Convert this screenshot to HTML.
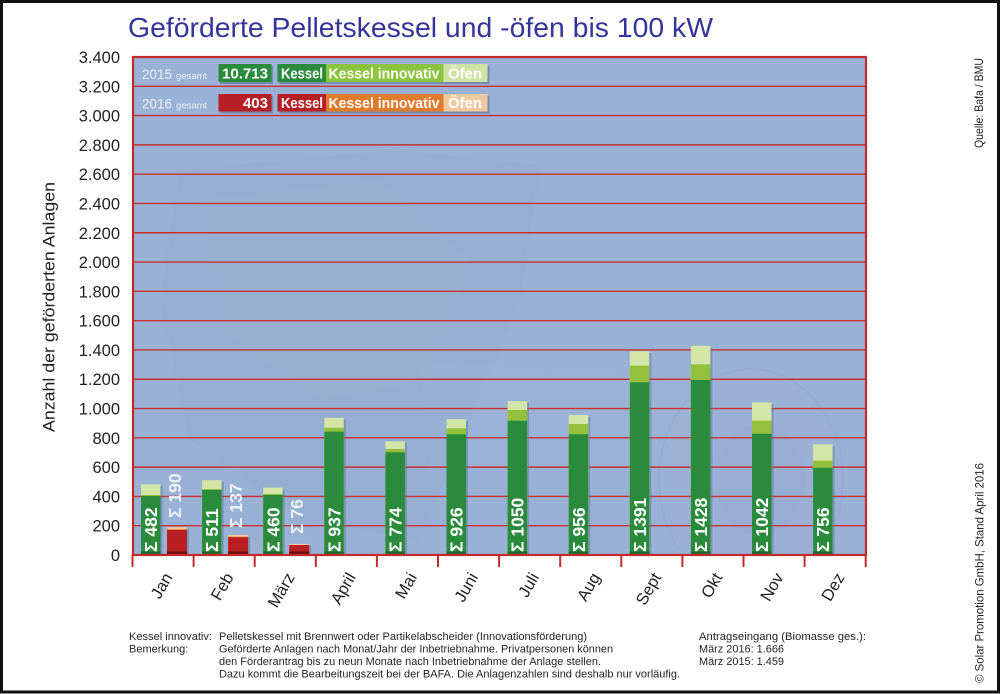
<!DOCTYPE html>
<html><head><meta charset="utf-8"><style>
html,body{margin:0;padding:0;background:#fff;}
svg{display:block;}
text{font-family:"Liberation Sans",sans-serif;}
</style></head><body>
<svg width="1000" height="694" viewBox="0 0 1000 694" xmlns="http://www.w3.org/2000/svg">
<defs>
<clipPath id="pc"><rect x="133" y="57" width="733" height="498"/></clipPath>
</defs>
<rect x="0" y="0" width="1000" height="694" fill="#fff"/>
<rect x="1.5" y="1.5" width="997" height="690.5" fill="none" stroke="#111" stroke-width="3"/>

<!-- Title -->
<text x="128" y="37" font-size="28" fill="#34359a" textLength="585" lengthAdjust="spacingAndGlyphs">Geförderte Pelletskessel und -öfen bis 100 kW</text>

<!-- Plot background -->
<rect x="133" y="57" width="733" height="498" fill="#98b1d5"/>
<g clip-path="url(#pc)">
  <polygon points="180,170 395,150 540,165 520,300 470,420 420,540 300,520 190,440 160,300" fill="#8ea5c9" opacity="0.2"/>
  <polygon points="200,200 380,180 470,260 430,380 320,400 220,330" fill="#a9bbd8" opacity="0.15"/>
  <polygon points="420,360 690,380 700,470 430,470" fill="#a4b7d7" opacity="0.2"/>
  <ellipse cx="751" cy="480" rx="92" ry="111" fill="#9fb4d6" opacity="0.3" stroke="#8aa0c4" stroke-width="1.5"/>
  <ellipse cx="760" cy="480" rx="45" ry="55" fill="#8ea5c9" opacity="0.2"/>
</g>

<!-- Gridlines -->
<g stroke="#c9302f" stroke-width="1.4">
<line x1="133" x2="866" y1="525.71" y2="525.71"/>
<line x1="133" x2="866" y1="496.41" y2="496.41"/>
<line x1="133" x2="866" y1="467.12" y2="467.12"/>
<line x1="133" x2="866" y1="437.82" y2="437.82"/>
<line x1="133" x2="866" y1="408.53" y2="408.53"/>
<line x1="133" x2="866" y1="379.24" y2="379.24"/>
<line x1="133" x2="866" y1="349.94" y2="349.94"/>
<line x1="133" x2="866" y1="320.65" y2="320.65"/>
<line x1="133" x2="866" y1="291.35" y2="291.35"/>
<line x1="133" x2="866" y1="262.06" y2="262.06"/>
<line x1="133" x2="866" y1="232.76" y2="232.76"/>
<line x1="133" x2="866" y1="203.47" y2="203.47"/>
<line x1="133" x2="866" y1="174.18" y2="174.18"/>
<line x1="133" x2="866" y1="144.88" y2="144.88"/>
<line x1="133" x2="866" y1="115.59" y2="115.59"/>
<line x1="133" x2="866" y1="86.29" y2="86.29"/>
</g>

<!-- Legend -->
<g>
<text x="142" y="79" fill="#eaf0f8"><tspan font-size="13.5">2015</tspan><tspan font-size="9.5" dx="4">gesamt</tspan></text>
<text x="142" y="108.5" fill="#eaf0f8"><tspan font-size="13.5">2016</tspan><tspan font-size="9.5" dx="4">gesamt</tspan></text>
<g fill="#5d739a" opacity="0.6">
<rect x="220" y="66" width="53" height="18"/>
<rect x="279.5" y="66" width="210" height="18"/>
<rect x="220" y="96" width="53" height="17.5"/>
<rect x="279.5" y="96" width="210" height="17.5"/>
</g>
<rect x="218.5" y="64" width="53" height="18" fill="#2b8b3d"/>
<rect x="277.5" y="64" width="48.5" height="18" fill="#2b8b3d"/>
<rect x="326" y="64" width="117.5" height="18" fill="#8cc43f"/>
<rect x="443.5" y="64" width="44" height="18" fill="#cfe3a5"/>
<rect x="218.5" y="94" width="53" height="17.5" fill="#b51f25"/>
<rect x="277.5" y="94" width="48.5" height="17.5" fill="#b51f25"/>
<rect x="326" y="94" width="117.5" height="17.5" fill="#e07b2c"/>
<rect x="443.5" y="94" width="44" height="17.5" fill="#f1c9a1"/>
<g font-weight="bold" font-size="15" fill="#fff">
<text x="222" y="78.5" textLength="46" lengthAdjust="spacingAndGlyphs">10.713</text>
<text x="281" y="78.5" textLength="42" lengthAdjust="spacingAndGlyphs">Kessel</text>
<text x="328.5" y="78.5" textLength="111" lengthAdjust="spacingAndGlyphs">Kessel innovativ</text>
<text x="448" y="78.5" textLength="34" lengthAdjust="spacingAndGlyphs">Öfen</text>
<text x="268" y="108" text-anchor="end">403</text>
<text x="281" y="108" textLength="42" lengthAdjust="spacingAndGlyphs">Kessel</text>
<text x="328.5" y="108" textLength="111" lengthAdjust="spacingAndGlyphs">Kessel innovativ</text>
<text x="448" y="108" textLength="34" lengthAdjust="spacingAndGlyphs">Öfen</text>
</g>
</g>

<!-- Bars 2015 -->
<g>
<g fill="#5d769c" opacity="0.5">
<rect x="143" y="486" width="19.5" height="69"/>
<rect x="204.1" y="482" width="19.5" height="73"/>
<rect x="265.2" y="489.7" width="19.5" height="65.3"/>
<rect x="326.3" y="419.7" width="19.5" height="135.3"/>
<rect x="387.4" y="443" width="19.5" height="112"/>
<rect x="448.5" y="421" width="19.5" height="134"/>
<rect x="509.6" y="403" width="19.5" height="152"/>
<rect x="570.7" y="417" width="19.5" height="138"/>
<rect x="631.8" y="353" width="19.5" height="202"/>
<rect x="692.9" y="347.7" width="19.5" height="207.3"/>
<rect x="754" y="404.3" width="19.5" height="150.7"/>
<rect x="815.1" y="446.3" width="19.5" height="108.7"/>
<rect x="169" y="529" width="20" height="26"/>
<rect x="230.1" y="536.5" width="20" height="18.5"/>
<rect x="291.2" y="546" width="20" height="9"/>
</g>
<g fill="#d3e5a7">
<rect x="141" y="484.4" width="19.5" height="70.1"/>
<rect x="202.1" y="480.2" width="19.5" height="74.3"/>
<rect x="263.2" y="487.6" width="19.5" height="66.9"/>
<rect x="324.3" y="417.8" width="19.5" height="136.7"/>
<rect x="385.4" y="441.4" width="19.5" height="113.1"/>
<rect x="446.5" y="419.2" width="19.5" height="135.3"/>
<rect x="507.6" y="401.2" width="19.5" height="153.3"/>
<rect x="568.7" y="415" width="19.5" height="139.5"/>
<rect x="629.8" y="351.2" width="19.5" height="203.3"/>
<rect x="690.9" y="345.8" width="19.5" height="208.7"/>
<rect x="752" y="402.4" width="19.5" height="152.1"/>
<rect x="813.1" y="444.3" width="19.5" height="110.2"/>
</g>
<g fill="#93c13e">
<rect x="141" y="495" width="19.5" height="59.5"/>
<rect x="202.1" y="489" width="19.5" height="65.5"/>
<rect x="263.2" y="494" width="19.5" height="60.5"/>
<rect x="324.3" y="427.7" width="19.5" height="126.8"/>
<rect x="385.4" y="449" width="19.5" height="105.5"/>
<rect x="446.5" y="428.3" width="19.5" height="126.2"/>
<rect x="507.6" y="410" width="19.5" height="144.5"/>
<rect x="568.7" y="424" width="19.5" height="130.5"/>
<rect x="629.8" y="365.7" width="19.5" height="188.8"/>
<rect x="690.9" y="364.3" width="19.5" height="190.2"/>
<rect x="752" y="420.7" width="19.5" height="133.8"/>
<rect x="813.1" y="460.7" width="19.5" height="93.8"/>
</g>
<g fill="#2b8b3d">
<rect x="141" y="496" width="19.5" height="58.5"/>
<rect x="202.1" y="490" width="19.5" height="64.5"/>
<rect x="263.2" y="495" width="19.5" height="59.5"/>
<rect x="324.3" y="431.7" width="19.5" height="122.8"/>
<rect x="385.4" y="452.3" width="19.5" height="102.2"/>
<rect x="446.5" y="434.3" width="19.5" height="120.2"/>
<rect x="507.6" y="420.7" width="19.5" height="133.8"/>
<rect x="568.7" y="434.3" width="19.5" height="120.2"/>
<rect x="629.8" y="382.3" width="19.5" height="172.2"/>
<rect x="690.9" y="380" width="19.5" height="174.5"/>
<rect x="752" y="433.7" width="19.5" height="120.8"/>
<rect x="813.1" y="467.7" width="19.5" height="86.8"/>
</g>
<g fill="#1e6a2d">
<rect x="141" y="551.5" width="19.5" height="3"/>
<rect x="202.1" y="551.5" width="19.5" height="3"/>
<rect x="263.2" y="551.5" width="19.5" height="3"/>
<rect x="324.3" y="551.5" width="19.5" height="3"/>
<rect x="385.4" y="551.5" width="19.5" height="3"/>
<rect x="446.5" y="551.5" width="19.5" height="3"/>
<rect x="507.6" y="551.5" width="19.5" height="3"/>
<rect x="568.7" y="551.5" width="19.5" height="3"/>
<rect x="629.8" y="551.5" width="19.5" height="3"/>
<rect x="690.9" y="551.5" width="19.5" height="3"/>
<rect x="752" y="551.5" width="19.5" height="3"/>
<rect x="813.1" y="551.5" width="19.5" height="3"/>
</g>
</g>

<!-- Bars 2016 -->
<g>
<rect x="167" y="527.2" width="20" height="27.3" fill="#f3c99f"/>
<rect x="167" y="529.2" width="20" height="25.3" fill="#e07b2c"/>
<rect x="167" y="530" width="20" height="24.5" fill="#b81e22"/>
<rect x="228.1" y="534.9" width="20" height="19.6" fill="#f3c99f"/>
<rect x="228.1" y="536.6" width="20" height="17.9" fill="#e07b2c"/>
<rect x="228.1" y="537.3" width="20" height="17.2" fill="#b81e22"/>
<rect x="289.2" y="543.9" width="20" height="10.6" fill="#f3c99f"/>
<rect x="289.2" y="545" width="20" height="9.5" fill="#b81e22"/>
<g fill="#6a0f12">
<rect x="167" y="551.5" width="20" height="3"/>
<rect x="228.1" y="551.5" width="20" height="3"/>
<rect x="289.2" y="551.5" width="20" height="3"/>
</g>
</g>

<!-- Bar labels -->
<g font-weight="bold" font-size="17.5" fill="#ffffff">
<text transform="translate(157.1,552) rotate(-90)">Σ 482</text>
<text transform="translate(218.2,552) rotate(-90)">Σ 511</text>
<text transform="translate(279.3,552) rotate(-90)">Σ 460</text>
<text transform="translate(340.4,552) rotate(-90)">Σ 937</text>
<text transform="translate(401.5,552) rotate(-90)">Σ 774</text>
<text transform="translate(462.6,552) rotate(-90)">Σ 926</text>
<text transform="translate(523.7,552) rotate(-90)">Σ 1050</text>
<text transform="translate(584.8,552) rotate(-90)">Σ 956</text>
<text transform="translate(645.9,552) rotate(-90)">Σ 1391</text>
<text transform="translate(707,552) rotate(-90)">Σ 1428</text>
<text transform="translate(768.1,552) rotate(-90)">Σ 1042</text>
<text transform="translate(829.2,552) rotate(-90)">Σ 756</text>
</g>
<g font-weight="bold" font-size="17.5" fill="#eef2f8">
<text transform="translate(181,518) rotate(-90)">Σ 190</text>
<text transform="translate(242.1,528) rotate(-90)">Σ 137</text>
<text transform="translate(303.2,534) rotate(-90)">Σ 76</text>
</g>

<!-- Plot border and ticks -->
<rect x="133" y="57" width="733" height="498" fill="none" stroke="#c42a2a" stroke-width="2.2"/>
<g stroke="#c42a2a" stroke-width="2">
<line x1="132.5" x2="132.5" y1="555" y2="567"/>
<line x1="193.6" x2="193.6" y1="555" y2="567"/>
<line x1="254.7" x2="254.7" y1="555" y2="567"/>
<line x1="315.8" x2="315.8" y1="555" y2="567"/>
<line x1="376.9" x2="376.9" y1="555" y2="567"/>
<line x1="438" x2="438" y1="555" y2="567"/>
<line x1="499.1" x2="499.1" y1="555" y2="567"/>
<line x1="560.2" x2="560.2" y1="555" y2="567"/>
<line x1="621.3" x2="621.3" y1="555" y2="567"/>
<line x1="682.4" x2="682.4" y1="555" y2="567"/>
<line x1="743.5" x2="743.5" y1="555" y2="567"/>
<line x1="804.6" x2="804.6" y1="555" y2="567"/>
<line x1="865.7" x2="865.7" y1="555" y2="567"/>
</g>

<!-- Y axis labels -->
<g font-size="16.5" fill="#231f20" text-anchor="end">
<text x="120" y="561">0</text>
<text x="120" y="531.7">200</text>
<text x="120" y="502.4">400</text>
<text x="120" y="473.1">600</text>
<text x="120" y="443.8">800</text>
<text x="120" y="414.5">1.000</text>
<text x="120" y="385.2">1.200</text>
<text x="120" y="355.9">1.400</text>
<text x="120" y="326.6">1.600</text>
<text x="120" y="297.4">1.800</text>
<text x="120" y="268.1">2.000</text>
<text x="120" y="238.8">2.200</text>
<text x="120" y="209.5">2.400</text>
<text x="120" y="180.2">2.600</text>
<text x="120" y="150.9">2.800</text>
<text x="120" y="121.6">3.000</text>
<text x="120" y="92.3">3.200</text>
<text x="120" y="63">3.400</text>
</g>
<text transform="translate(54.5,432) rotate(-90)" font-size="17" fill="#231f20" textLength="250" lengthAdjust="spacingAndGlyphs">Anzahl der geförderten Anlagen</text>

<!-- Month labels -->
<g font-size="16.5" fill="#231f20" text-anchor="end">
<text transform="translate(173,577) rotate(-60)">Jan</text>
<text transform="translate(234.1,577) rotate(-60)">Feb</text>
<text transform="translate(295.2,577) rotate(-60)">März</text>
<text transform="translate(356.3,577) rotate(-60)">April</text>
<text transform="translate(417.4,577) rotate(-60)">Mai</text>
<text transform="translate(478.5,577) rotate(-60)">Juni</text>
<text transform="translate(539.6,577) rotate(-60)">Juli</text>
<text transform="translate(600.7,577) rotate(-60)">Aug</text>
<text transform="translate(661.8,577) rotate(-60)">Sept</text>
<text transform="translate(722.9,577) rotate(-60)">Okt</text>
<text transform="translate(784,577) rotate(-60)">Nov</text>
<text transform="translate(845.1,577) rotate(-60)">Dez</text>
</g>

<!-- Footer -->
<g font-size="11" fill="#231f20">
<text x="129" y="640" textLength="83" lengthAdjust="spacingAndGlyphs">Kessel innovativ:</text>
<text x="129" y="652.5">Bemerkung:</text>
<text x="219" y="640" textLength="368" lengthAdjust="spacingAndGlyphs">Pelletskessel mit Brennwert oder Partikelabscheider (Innovationsförderung)</text>
<text x="219" y="652.5" textLength="394" lengthAdjust="spacingAndGlyphs">Geförderte Anlagen nach Monat/Jahr der Inbetriebnahme. Privatpersonen können</text>
<text x="219" y="665" textLength="382" lengthAdjust="spacingAndGlyphs">den Förderantrag bis zu neun Monate nach Inbetriebnahme der Anlage stellen.</text>
<text x="219" y="677.5" textLength="461" lengthAdjust="spacingAndGlyphs">Dazu kommt die Bearbeitungszeit bei der BAFA. Die Anlagenzahlen sind deshalb nur vorläufig.</text>
<text x="699" y="640" textLength="167" lengthAdjust="spacingAndGlyphs">Antragseingang (Biomasse ges.):</text>
<text x="699" y="652.5" textLength="85" lengthAdjust="spacingAndGlyphs">März 2016: 1.666</text>
<text x="699" y="665" textLength="85" lengthAdjust="spacingAndGlyphs">März 2015: 1.459</text>
</g>

<!-- Right vertical texts -->
<g font-size="12" fill="#231f20">
<text transform="translate(983,148) rotate(-90)" textLength="90" lengthAdjust="spacingAndGlyphs">Quelle: Bafa / BMU</text>
<text transform="translate(983.5,683) rotate(-90)" textLength="220" lengthAdjust="spacingAndGlyphs">© Solar Promotion GmbH, Stand April 2016</text>
</g>
</svg>
</body></html>
